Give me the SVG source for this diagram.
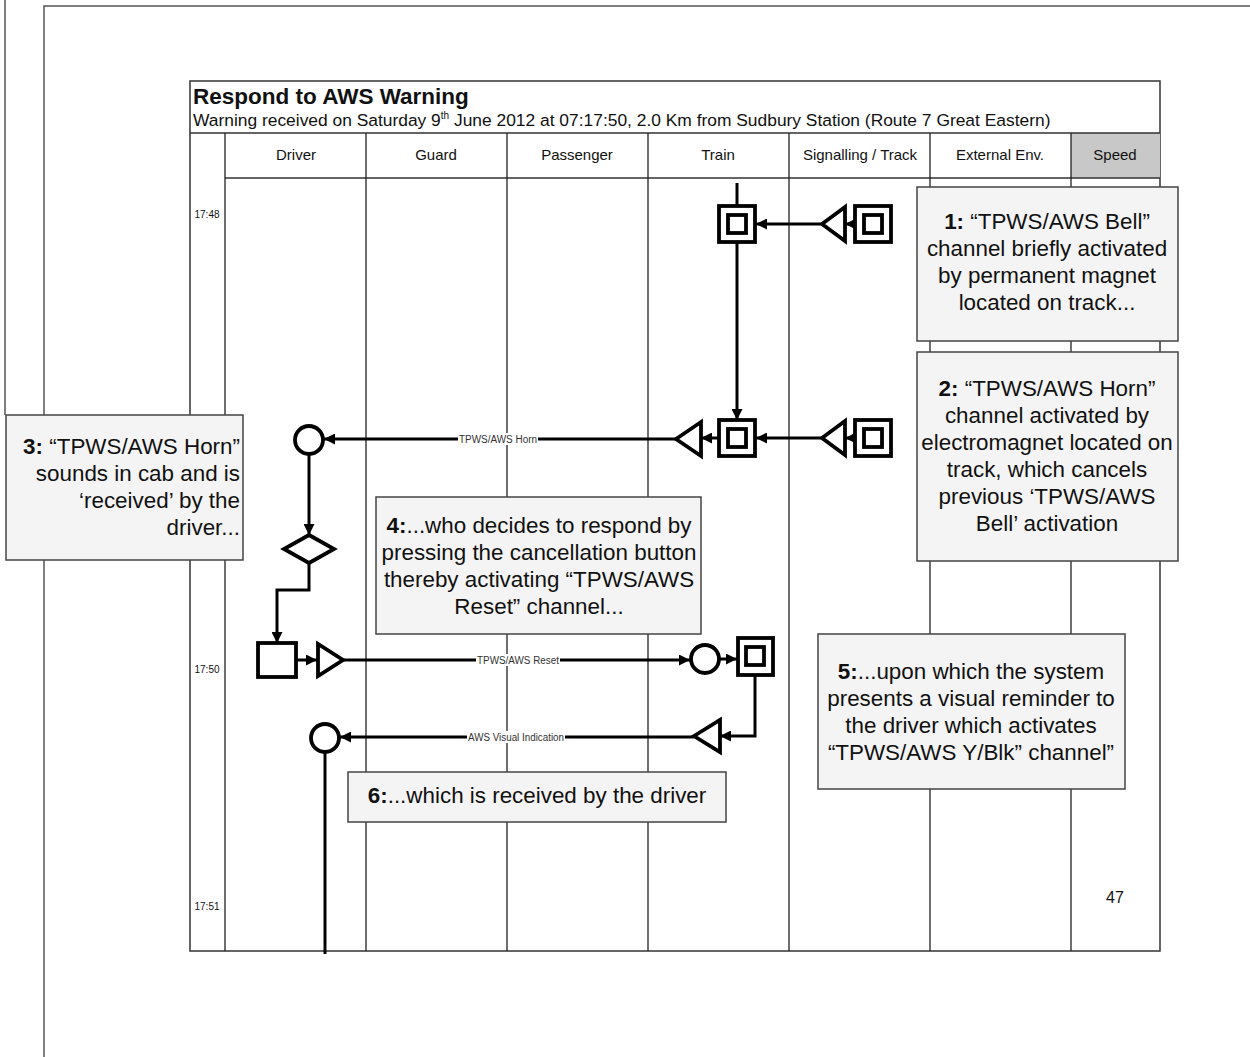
<svg xmlns="http://www.w3.org/2000/svg" width="1250" height="1057" viewBox="0 0 1250 1057">
<defs>
<style>
.pg{stroke:#555;stroke-width:1.5;fill:none}
.tb{stroke:#333;stroke-width:1.5;fill:none}
.col{stroke:#222;stroke-width:1.3}
.t{font-family:"Liberation Sans",Arial,sans-serif;fill:#111}
.hd{font-size:15px;text-anchor:middle}
.tm{font-size:10px;text-anchor:middle}
.box{fill:#f4f4f4;stroke:#444;stroke-width:1.5}
.bt{font-size:22.4px;text-anchor:middle}
.sym{fill:#fff;stroke:#000;stroke-width:3.8}
.c{fill:none;stroke:#000;stroke-width:3}
.lb{font-size:10px;text-anchor:middle;fill:#333}
</style>
<marker id="arr" viewBox="0 0 10 10" refX="10" refY="5" markerWidth="11" markerHeight="11" markerUnits="userSpaceOnUse" orient="auto">
<path d="M0 0 L10 5 L0 10 Z" fill="#000"/>
</marker>
</defs>
<rect width="1250" height="1057" fill="#fff"/>
<g id="page">
<path class="pg" d="M5 0 V415 M44 1057 V6 H1250"/>
</g>
<g id="table">
<rect class="tb" x="190" y="81" width="970" height="870" fill="#fff"/>
<rect x="1071" y="133" width="89" height="45" fill="#c8c8c8"/>
<path class="tb" d="M190 133 H1160 M225 178 H1160"/>
<path class="col" d="M225 133 V951 M366 133 V951 M507 133 V951 M648 133 V951 M789 133 V951 M930 133 V951 M1071 133 V951"/>
<text class="t" x="193" y="104" font-size="22.5" font-weight="bold">Respond to AWS Warning</text>
<text class="t" x="193" y="126" font-size="17.4">Warning received on Saturday 9<tspan font-size="10" dy="-7">th</tspan><tspan dy="7"> June 2012 at 07:17:50, 2.0 Km from Sudbury Station (Route 7 Great Eastern)</tspan></text>
<text class="t hd" x="296" y="160">Driver</text>
<text class="t hd" x="436" y="160">Guard</text>
<text class="t hd" x="577" y="160">Passenger</text>
<text class="t hd" x="718" y="160">Train</text>
<text class="t hd" x="860" y="160">Signalling / Track</text>
<text class="t hd" x="1000" y="160">External Env.</text>
<text class="t hd" x="1115" y="160">Speed</text>
<text class="t tm" x="207" y="218">17:48</text>
<text class="t tm" x="207" y="673">17:50</text>
<text class="t tm" x="207" y="910">17:51</text>
<text class="t" x="1115" y="903" font-size="16" text-anchor="middle">47</text>
</g>
<g id="connectors">
<path class="c" d="M737 183 V206"/>
<path class="c" d="M855 224 H845" marker-end="url(#arr)"/>
<path class="c" d="M822 224 H756" marker-end="url(#arr)"/>
<path class="c" d="M737 242 V420" marker-end="url(#arr)"/>
<path class="c" d="M855 438 H845" marker-end="url(#arr)"/>
<path class="c" d="M822 438 H756" marker-end="url(#arr)"/>
<path class="c" d="M719 438 H701" marker-end="url(#arr)"/>
<path class="c" d="M676 439 H324" marker-end="url(#arr)"/>
<path class="c" d="M309 454 V535" marker-end="url(#arr)"/>
<path class="c" d="M309 563 V590 H277 V643" marker-end="url(#arr)"/>
<path class="c" d="M297 660 H317" marker-end="url(#arr)"/>
<path class="c" d="M343 660 H690" marker-end="url(#arr)"/>
<path class="c" d="M720 659 H737" marker-end="url(#arr)"/>
<path class="c" d="M755 665 V736 H720" marker-end="url(#arr)"/>
<path class="c" d="M694 737 H340" marker-end="url(#arr)"/>
<path class="c" d="M325 752 V954"/>
<rect x="458" y="433" width="80" height="12" fill="#fff"/>
<text class="t lb" x="498" y="442.5" textLength="78" lengthAdjust="spacingAndGlyphs">TPWS/AWS Horn</text>
<rect x="476" y="654" width="84" height="12" fill="#fff"/>
<text class="t lb" x="518" y="663.5" textLength="82" lengthAdjust="spacingAndGlyphs">TPWS/AWS Reset</text>
<rect x="467" y="731" width="98" height="12" fill="#fff"/>
<text class="t lb" x="516" y="740.5" textLength="96" lengthAdjust="spacingAndGlyphs">AWS Visual Indication</text>
</g>
<g id="train1"><rect class="sym" x="719" y="206" width="36" height="36"/><rect class="sym" x="728" y="215" width="18" height="18"/></g>
<g id="sig1"><polygon class="sym" points="822,224 845,207 845,241"/><rect class="sym" x="855" y="206" width="36" height="36"/><rect class="sym" x="864" y="215" width="18" height="18"/></g>
<g id="train2"><rect class="sym" x="719" y="420" width="36" height="36"/><rect class="sym" x="728" y="429" width="18" height="18"/></g>
<g id="sig2"><polygon class="sym" points="822,438 845,421 845,455"/><rect class="sym" x="855" y="420" width="36" height="36"/><rect class="sym" x="864" y="429" width="18" height="18"/></g>
<g id="train2out"><polygon class="sym" points="676,439 701,422 701,456"/></g>
<g id="driver-horn"><circle class="sym" cx="309" cy="440" r="14"/></g>
<g id="driver-decide"><polygon class="sym" points="309,535 334,549 309,563 284,549"/></g>
<g id="driver-press"><rect class="sym" x="258" y="643" width="38" height="34"/><polygon class="sym" points="318,644 318,676 343,660"/></g>
<g id="train-reset"><circle class="sym" cx="705" cy="659" r="14"/></g>
<g id="train-visual"><rect class="sym" x="738" y="638" width="35" height="37"/><rect class="sym" x="746" y="647" width="18" height="18"/><polygon class="sym" points="694,736 720,720 720,752"/></g>
<g id="driver-visual"><circle class="sym" cx="325" cy="738" r="14"/></g>
<g id="note1"><rect class="box" x="917" y="187" width="261" height="154"/>
<text class="t bt"><tspan x="1047" y="229"><tspan font-weight="bold">1:</tspan> “TPWS/AWS Bell”</tspan><tspan x="1047" y="256">channel briefly activated</tspan><tspan x="1047" y="283">by permanent magnet</tspan><tspan x="1047" y="310">located on track...</tspan></text></g>
<g id="note2"><rect class="box" x="917" y="352" width="261" height="209"/>
<text class="t bt"><tspan x="1047" y="396"><tspan font-weight="bold">2:</tspan> “TPWS/AWS Horn”</tspan><tspan x="1047" y="423">channel activated by</tspan><tspan x="1047" y="450">electromagnet located on</tspan><tspan x="1047" y="477">track, which cancels</tspan><tspan x="1047" y="504">previous ‘TPWS/AWS</tspan><tspan x="1047" y="531">Bell’ activation</tspan></text></g>
<g id="note3"><rect class="box" x="6" y="415" width="237" height="145"/>
<text class="t" font-size="22.4" text-anchor="end"><tspan x="240" y="454"><tspan font-weight="bold">3:</tspan> “TPWS/AWS Horn”</tspan><tspan x="240" y="481">sounds in cab and is</tspan><tspan x="240" y="508">‘received’ by the</tspan><tspan x="240" y="535">driver...</tspan></text></g>
<g id="note4"><rect class="box" x="376" y="497" width="325" height="137"/>
<text class="t bt"><tspan x="539" y="533"><tspan font-weight="bold">4:</tspan>...who decides to respond by</tspan><tspan x="539" y="560">pressing the cancellation button</tspan><tspan x="539" y="587">thereby activating “TPWS/AWS</tspan><tspan x="539" y="614">Reset” channel...</tspan></text></g>
<g id="note5"><rect class="box" x="818" y="634" width="307" height="155"/>
<text class="t bt"><tspan x="971" y="679"><tspan font-weight="bold">5:</tspan>...upon which the system</tspan><tspan x="971" y="706">presents a visual reminder to</tspan><tspan x="971" y="733">the driver which activates</tspan><tspan x="971" y="760">“TPWS/AWS Y/Blk” channel”</tspan></text></g>
<g id="note6"><rect class="box" x="348" y="772" width="378" height="50"/>
<text class="t bt" x="537" y="803"><tspan font-weight="bold">6:</tspan>...which is received by the driver</text></g>
</svg>
